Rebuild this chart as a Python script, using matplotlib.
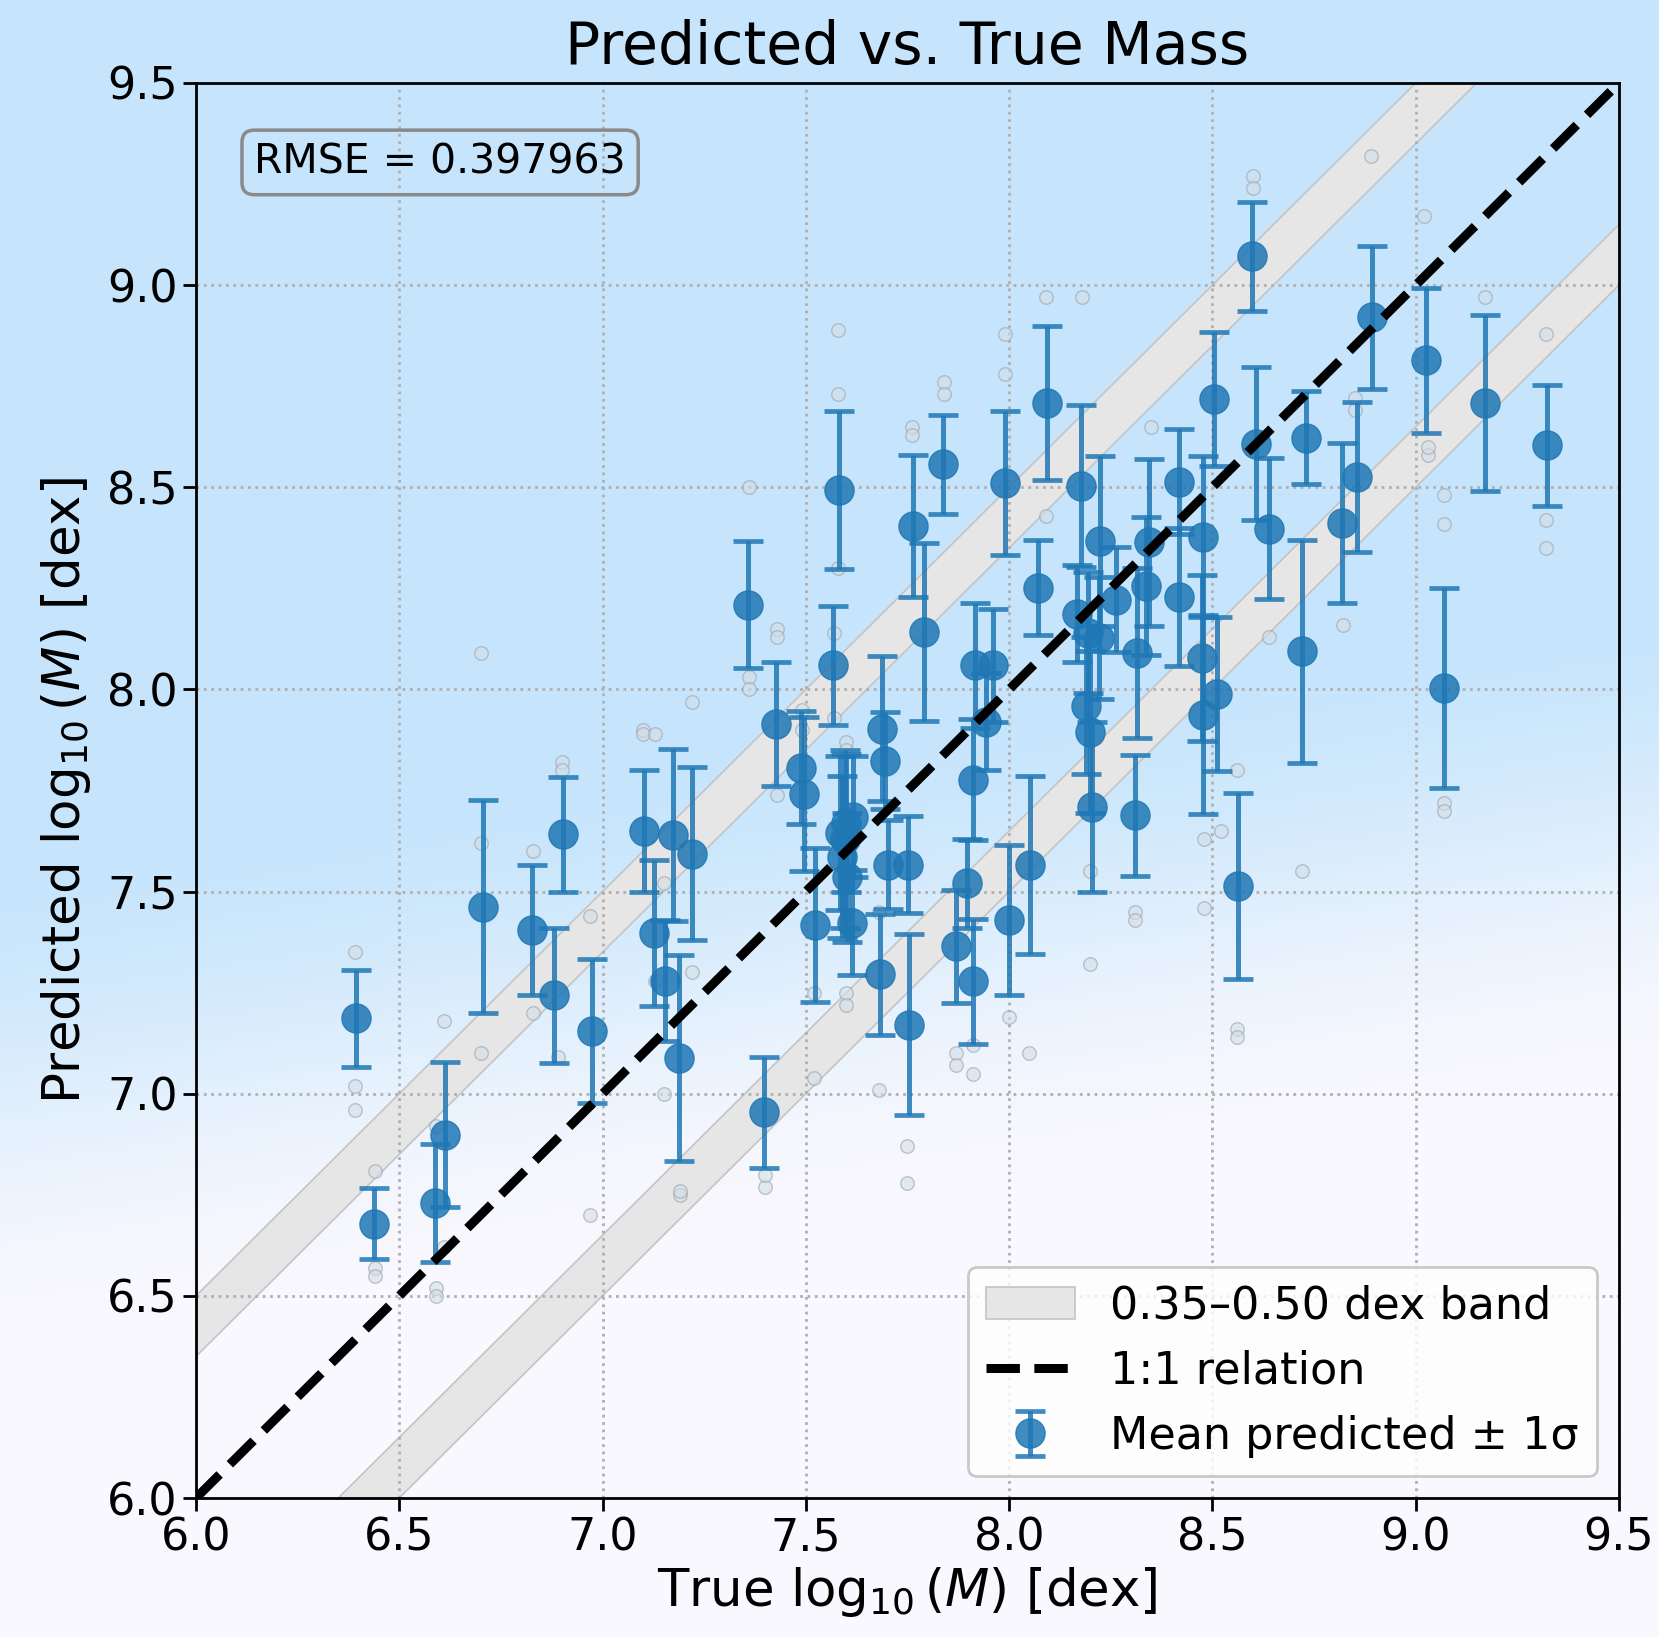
import numpy as np
import matplotlib
matplotlib.use("Agg")
import matplotlib.pyplot as plt

# mean prediction per object
true_mass = [6.394, 6.439, 6.589, 6.613, 6.705, 6.826, 6.881, 6.902, 6.974, 7.103,
             7.127, 7.154, 7.173, 7.187, 7.220, 7.357, 7.397, 7.427, 7.488, 7.495,
             7.523, 7.568, 7.581, 7.585, 7.590, 7.597, 7.600, 7.602, 7.613, 7.615,
             7.683, 7.687, 7.695, 7.703, 7.752, 7.753, 7.763, 7.790, 7.837, 7.869,
             7.896, 7.912, 7.912, 7.915, 7.942, 7.961, 7.990, 7.999, 8.052, 8.070,
             8.092, 8.166, 8.177, 8.190, 8.195, 8.200, 8.204, 8.220, 8.224, 8.262,
             8.314, 8.310, 8.337, 8.345, 8.417, 8.419, 8.474, 8.478, 8.478, 8.505,
             8.511, 8.564, 8.597, 8.608, 8.638, 8.720, 8.730, 8.818, 8.856, 8.892,
             9.025, 9.069, 9.171, 9.322]
pred_mean = [7.187, 6.679, 6.730, 6.899, 7.463, 7.404, 7.243, 7.642, 7.155, 7.650,
             7.398, 7.280, 7.639, 7.089, 7.594, 8.210, 6.954, 7.914, 7.806, 7.742,
             7.418, 8.060, 8.493, 7.645, 7.585, 7.630, 7.670, 7.535, 7.423, 7.685,
             7.295, 7.903, 7.824, 7.566, 7.566, 7.171, 8.405, 8.141, 8.557, 7.365,
             7.520, 7.278, 7.777, 8.060, 7.920, 8.060, 8.511, 7.430, 7.566, 8.252,
             8.708, 8.187, 8.503, 7.960, 8.140, 7.895, 7.710, 8.127, 8.367, 8.222,
             8.090, 7.689, 8.256, 8.364, 8.514, 8.229, 8.078, 8.378, 7.938, 8.718,
             7.988, 7.514, 9.071, 8.608, 8.398, 8.094, 8.622, 8.412, 8.525, 8.920,
             8.814, 8.003, 8.708, 8.604]
pred_std = [0.120, 0.088, 0.146, 0.179, 0.264, 0.161, 0.168, 0.142, 0.178, 0.151,
            0.180, 0.150, 0.213, 0.255, 0.215, 0.157, 0.137, 0.153, 0.140, 0.190,
            0.190, 0.147, 0.196, 0.190, 0.200, 0.220, 0.170, 0.160, 0.130, 0.150,
            0.150, 0.180, 0.120, 0.110, 0.120, 0.224, 0.176, 0.220, 0.122, 0.140,
            0.110, 0.155, 0.150, 0.155, 0.120, 0.140, 0.178, 0.186, 0.220, 0.118,
            0.190, 0.120, 0.200, 0.170, 0.150, 0.200, 0.210, 0.150, 0.210, 0.130,
            0.210, 0.150, 0.170, 0.207, 0.130, 0.170, 0.205, 0.200, 0.245, 0.165,
            0.190, 0.230, 0.135, 0.190, 0.175, 0.275, 0.115, 0.198, 0.185, 0.177,
            0.180, 0.248, 0.217, 0.150]

# individual predictions that stand out from the error bars
sample_true = [6.39, 6.39, 6.39, 6.44, 6.44, 6.44, 6.59, 6.59, 6.59, 6.61, 6.61,
               6.70, 6.70, 6.70, 6.83, 6.83, 6.89, 6.90, 6.90, 6.97, 6.97, 7.10, 7.10,
               7.13, 7.13, 7.15, 7.15, 7.19, 7.19, 7.22, 7.22, 7.36, 7.36, 7.36,
               7.40, 7.40, 7.43, 7.43, 7.43, 7.49, 7.49, 7.52, 7.52, 7.57, 7.57,
               7.58, 7.58, 7.58, 7.60, 7.60, 7.60, 7.60, 7.68, 7.68, 7.75, 7.75,
               7.76, 7.76, 7.84, 7.84, 7.87, 7.87, 7.91, 7.91, 7.99, 7.99, 8.00,
               8.05, 8.09, 8.09, 8.18, 8.20, 8.20, 8.31, 8.31, 8.35, 8.48, 8.48,
               8.52, 8.56, 8.56, 8.56, 8.60, 8.60, 8.64, 8.72, 8.82, 8.85, 8.85,
               8.89, 9.02, 9.03, 9.03, 9.07, 9.07, 9.07, 9.07, 9.17, 9.32, 9.32, 9.32]
sample_pred = [7.35, 7.02, 6.96, 6.81, 6.57, 6.55, 6.52, 6.50, 6.92, 7.18, 6.62,
               8.09, 7.10, 7.62, 7.60, 7.20, 7.09, 7.82, 7.80, 7.44, 6.70, 7.90, 7.89,
               7.89, 7.28, 7.00, 7.52, 6.75, 6.76, 7.97, 7.30, 8.50, 8.03, 8.00,
               6.77, 6.80, 8.15, 8.13, 7.74, 7.90, 7.95, 7.04, 7.25, 8.14, 7.93,
               8.89, 8.73, 8.30, 7.87, 7.85, 7.25, 7.22, 7.01, 7.45, 6.87, 6.78,
               8.65, 8.63, 8.76, 8.73, 7.10, 7.07, 7.05, 7.12, 8.88, 8.78, 7.19,
               7.10, 8.43, 8.97, 8.97, 7.32, 7.55, 7.45, 7.43, 8.65, 7.46, 7.63,
               7.65, 7.80, 7.16, 7.14, 9.27, 9.24, 8.13, 7.55, 8.16, 8.72, 8.69,
               9.32, 9.17, 8.58, 8.60, 8.48, 8.41, 7.72, 7.70, 8.97, 8.88, 8.42, 8.35]

band_inner = 0.35
band_outer = 0.50
rmse = 0.397963
lims = [6.0, 9.5]
ticks = [6.0, 6.5, 7.0, 7.5, 8.0, 8.5, 9.0, 9.5]

fig = plt.figure(figsize=(16.59, 16.37), dpi=100)

# soft blue -> white backdrop behind everything
bg = fig.add_axes([0, 0, 1, 1], zorder=-10)
yy, xx = np.mgrid[0:1:400j, 0:1:400j]
t = np.clip((yy - 0.52 + 0.16 * xx) / 0.30, 0, 1)
t = t * t * (3 - 2 * t)
top = np.array([198, 229, 252]) / 255
bot = np.array([248, 248, 254]) / 255
img = top[None, None, :] * (1 - t[..., None]) + bot[None, None, :] * t[..., None]
bg.imshow(img, aspect="auto", extent=[0, 1, 1, 0])
bg.axis("off")

ax = fig.add_axes([0.1181, 0.0849, 0.8578, 0.8644])
ax.set_facecolor("none")

xs = np.array([5.0, 10.5])
ax.fill_between(xs, xs + band_inner, xs + band_outer, facecolor="#e6e6e6",
                edgecolor="#c4c4c4", lw=1.2, zorder=1, label="0.35\u20130.50 dex band")
ax.fill_between(xs, xs - band_outer, xs - band_inner, facecolor="#e6e6e6",
                edgecolor="#c4c4c4", lw=1.2, zorder=1)

ax.scatter(sample_true, sample_pred, s=95, c="#d3dee8", edgecolors="#9da3a8",
           linewidths=1.0, alpha=0.6, zorder=2)

ax.errorbar(true_mass, pred_mean, yerr=pred_std, fmt="o", color="#1f77b4",
            ms=21, elinewidth=3.6, capsize=10.5, capthick=3.4, alpha=0.85,
            zorder=3, label="Mean predicted \u00b1 1\u03c3")

ax.plot(lims, lims, "k--", lw=6.5, zorder=4, label="1:1 relation")

ax.set_xlim(lims)
ax.set_ylim(lims)
ax.set_xticks(ticks)
ax.set_yticks(ticks)
ax.grid(True, ls=":", color="#b0b0b0", lw=2.0)
ax.tick_params(labelsize=32, length=9.5, width=2)
for sp in ax.spines.values():
    sp.set_linewidth(2)

ax.set_title("Predicted vs. True Mass", fontsize=42, pad=14)
ax.set_xlabel(r"True $\log_{10}(M)$ [dex]", fontsize=37, labelpad=4)
ax.set_ylabel(r"Predicted $\log_{10}(M)$ [dex]", fontsize=37, labelpad=10)

ax.text(0.041, 0.958, f"RMSE = {rmse:.6f}", transform=ax.transAxes, fontsize=29.5,
        ha="left", va="top",
        bbox=dict(boxstyle="round,pad=0.3", fc="none", ec="#8a8a8a", lw=2.5))

handles, labels = ax.get_legend_handles_labels()
order = [labels.index("0.35\u20130.50 dex band"), labels.index("1:1 relation"),
         labels.index("Mean predicted \u00b1 1\u03c3")]
leg = ax.legend([handles[i] for i in order], [labels[i] for i in order],
                loc="lower right", fontsize=32, edgecolor="#bdbdbd", framealpha=0.8)
leg.get_frame().set_linewidth(2)

fig.savefig("out.png", dpi=100)
